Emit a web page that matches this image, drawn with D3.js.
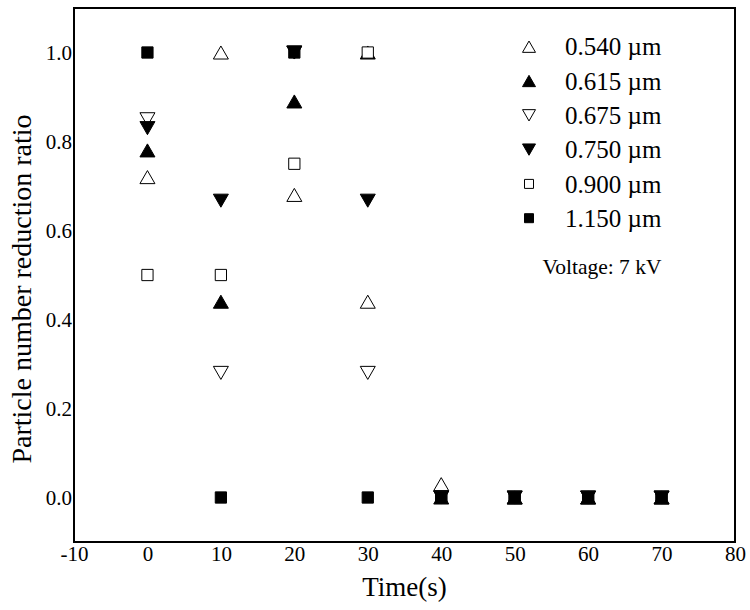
<!DOCTYPE html>
<html>
<head>
<meta charset="utf-8">
<script src="https://cdn.jsdelivr.net/npm/d3@7"></script>
<style>
  html, body { margin: 0; padding: 0; background: #fff; }
  svg { display: block; font-family: "Liberation Serif", "Times New Roman", serif; }
</style>
</head>
<body>
<svg id="chart" width="750" height="610"></svg>
<script>
// ---- data ----
const times = [0, 10, 20, 30, 40, 50, 60, 70];
const seriesNames = ["0.540 \u00b5m", "0.615 \u00b5m", "0.675 \u00b5m", "0.750 \u00b5m", "0.900 \u00b5m", "1.150 \u00b5m"];
const s0540 = [0.72, 1.00, 0.68, 0.44, 0.03, 0, 0, 0];
const s0615 = [0.78, 0.44, 0.89, 1.00, 0, 0, 0, 0];
const s0675 = [0.85, 0.28, 1.00, 0.28, 0, 0, 0, 0];
const s0750 = [0.83, 0.667, 1.00, 0.667, 0, 0, 0, 0];
const s0900 = [0.50, 0.50, 0.75, 1.00, 0, 0, 0, 0];
const s1150 = [1.00, 0, 1.00, 0, 0, 0, 0, 0];
const seriesValues = [s0540, s0615, s0675, s0750, s0900, s1150];
const markerShapes = ["up", "up", "down", "down", "square", "square"];
const markerFilled = [false, true, false, true, false, true];
const xTicks = [-10, 0, 10, 20, 30, 40, 50, 60, 70, 80];
const yTicks = [0.0, 0.2, 0.4, 0.6, 0.8, 1.0];
const xLabel = "Time(s)";
const yLabel = "Particle number reduction ratio";
const note = "Voltage: 7 kV";

// ---- layout ----
const svg = d3.select("#chart");
const W = 750, H = 610;
const m = { left: 74, top: 8, right: 15, bottom: 68 };
const x = d3.scaleLinear().domain([-10, 80]).range([m.left, W - m.right]);
const y = d3.scaleLinear().domain([-0.1, 1.1]).range([H - m.bottom, m.top]);

function markerPath(shape, s) {
  const p = d3.path();
  if (shape === "up") {
    const w = s, h = s * 0.87;
    p.moveTo(0, -h / 2); p.lineTo(w / 2, h / 2); p.lineTo(-w / 2, h / 2); p.closePath();
  } else if (shape === "down") {
    const w = s, h = s * 0.87;
    p.moveTo(0, h / 2); p.lineTo(w / 2, -h / 2); p.lineTo(-w / 2, -h / 2); p.closePath();
  } else {
    const a = s * 0.75;
    p.rect(-a / 2, -a / 2, a, a);
  }
  return p.toString();
}

// axes (no tick marks)
const xAxis = d3.axisBottom(x).tickValues(xTicks).tickSize(0).tickPadding(4).tickFormat(d => String(d));
const yAxis = d3.axisLeft(y).tickValues(yTicks).tickSize(0).tickPadding(2).tickFormat(d => d.toFixed(1));

const gx = svg.append("g").attr("transform", `translate(0,${H - m.bottom})`).call(xAxis);
const gy = svg.append("g").attr("transform", `translate(${m.left},0)`).call(yAxis);
[gx, gy].forEach(g => {
  g.attr("font-family", "Liberation Serif, serif").attr("font-size", 21);
  g.select(".domain").remove();
  g.selectAll("text").attr("fill", "#000");
});
gy.selectAll("text").attr("dy", "0.33em");

// frame
svg.append("rect")
  .attr("x", m.left).attr("y", m.top)
  .attr("width", W - m.left - m.right).attr("height", H - m.top - m.bottom)
  .attr("fill", "none").attr("stroke", "#000").attr("stroke-width", 2);

// markers
const gm = svg.append("g");
seriesValues.forEach((vals, si) => {
  gm.append("g").selectAll("path").data(vals.map((v, i) => [times[i], v]))
    .join("path")
    .attr("d", markerPath(markerShapes[si], 15))
    .attr("transform", d => `translate(${x(d[0])},${y(d[1])})`)
    .attr("fill", markerFilled[si] ? "#000" : "#fff")
    .attr("stroke", "#000").attr("stroke-width", 1);
});

// legend
const lg = svg.append("g");
seriesNames.forEach((name, i) => {
  const cy = 46.7 + i * 34.3;
  lg.append("path")
    .attr("d", markerPath(markerShapes[i], markerShapes[i] === "square" ? 12 : 13))
    .attr("transform", `translate(529,${cy})`)
    .attr("fill", markerFilled[i] ? "#000" : "#fff")
    .attr("stroke", "#000").attr("stroke-width", 1);
  lg.append("text").attr("x", 565).attr("y", cy).attr("dy", "0.35em")
    .attr("font-size", 25).attr("fill", "#000").text(name);
});
lg.append("text").attr("x", 602).attr("y", 266).attr("dy", "0.35em")
  .attr("text-anchor", "middle").attr("font-size", 21.5).attr("fill", "#000").text(note);

// axis titles
svg.append("text").attr("x", x(35)).attr("y", 596)
  .attr("text-anchor", "middle").attr("font-size", 27).attr("fill", "#000").text(xLabel);
svg.append("text").attr("transform", `translate(31,289) rotate(-90)`)
  .attr("text-anchor", "middle").attr("font-size", 28).attr("fill", "#000").text(yLabel);
</script>
</body>
</html>
